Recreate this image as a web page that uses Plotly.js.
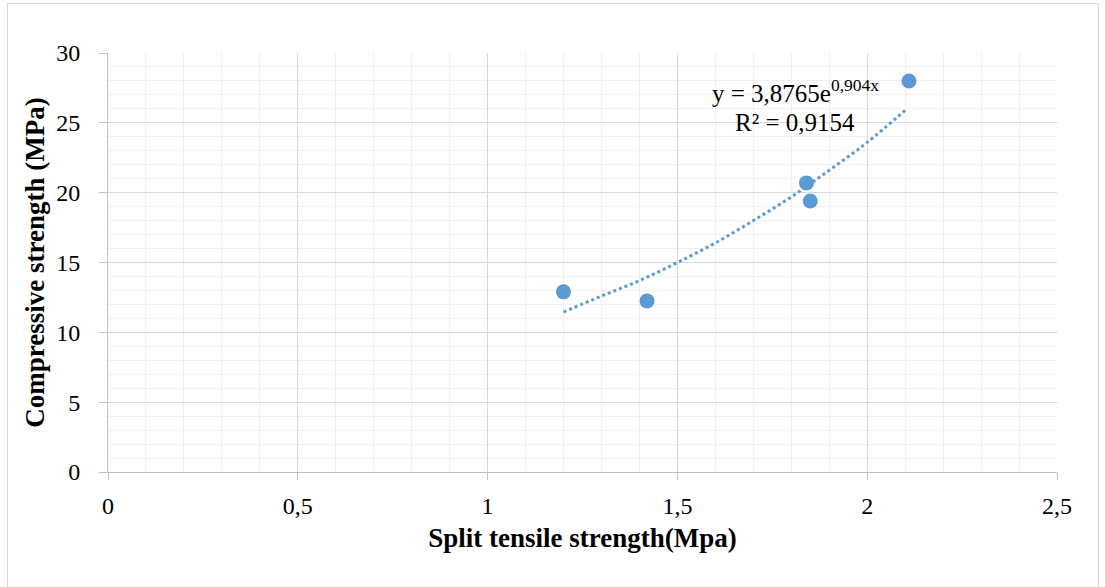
<!DOCTYPE html>
<html>
<head>
<meta charset="utf-8">
<script src="https://cdn.plot.ly/plotly-3.0.1.min.js"></script>
<style>
html,body{margin:0;padding:0;background:#fff;}
#wrap{position:relative;width:1105px;height:587px;}
#chart{width:1105px;height:587px;}
#frame{position:absolute;left:7px;top:3px;width:1090px;height:600px;border:1px solid #d9d9d9;pointer-events:none;}
</style>
</head>
<body>
<div id="wrap"><div id="chart"></div><div id="frame"></div></div>
<script>
// Measured points
const splitTensile = [1.20, 1.42, 1.84, 1.85, 2.11];
const compressive = [12.9, 12.25, 20.7, 19.4, 28.0];

// Exponential trendline
const trendX = [1.2, 1.3, 1.4, 1.5, 1.6, 1.7, 1.8, 1.9, 2.0, 2.1];
const trendY = [11.45, 12.6, 13.7, 15.0, 16.4, 18.0, 19.7, 21.6, 23.6, 25.9];

const xTickVals = [0, 0.5, 1, 1.5, 2, 2.5];
const xTickText = ['0', '0,5', '1', '1,5', '2', '2,5'];
const yTickVals = [0, 5, 10, 15, 20, 25, 30];

const equationText = 'y = 3,8765e<sup>0,904x</sup>';
const r2Text = 'R² = 0,9154';

const FONT = 'Liberation Serif, Times New Roman, serif';

const traces = [
  {
    x: trendX, y: trendY, type: 'scatter', mode: 'lines',
    line: {color: '#5B9BD5', width: 3, dash: 'dot', shape: 'spline'},
    hoverinfo: 'skip', showlegend: false
  },
  {
    x: splitTensile, y: compressive, type: 'scatter', mode: 'markers',
    marker: {color: '#5B9BD5', size: 15, line: {width: 0}},
    showlegend: false
  }
];

const layout = {
  width: 1105, height: 587,
  margin: {l: 108, r: 48, t: 53, b: 115},
  paper_bgcolor: '#fff', plot_bgcolor: '#fff',
  separators: ', ',
  font: {family: FONT, size: 24, color: '#000'},
  showlegend: false,
  xaxis: {
    range: [0, 2.5], tickvals: xTickVals, ticktext: xTickText,
    showgrid: true, gridcolor: '#d9d9d9', gridwidth: 1,
    minor: {dtick: 0.1, showgrid: true, gridcolor: '#f0f0f0', gridwidth: 1},
    showline: true, linecolor: '#bfbfbf', linewidth: 1,
    ticks: 'outside', ticklen: 7, tickcolor: '#bfbfbf',
    ticklabelstandoff: 5,
    zeroline: false,
    tickfont: {family: FONT, size: 24},
    title: {text: '<b>Split tensile strength(Mpa)</b>', font: {family: FONT, size: 27}, standoff: 10}
  },
  yaxis: {
    range: [0, 30], tickvals: yTickVals,
    showgrid: true, gridcolor: '#d9d9d9', gridwidth: 1,
    minor: {dtick: 1, showgrid: true, gridcolor: '#f0f0f0', gridwidth: 1},
    showline: true, linecolor: '#bfbfbf', linewidth: 1,
    ticks: 'outside', ticklen: 8, tickcolor: '#bfbfbf',
    ticklabelstandoff: 14,
    zeroline: false,
    tickfont: {family: FONT, size: 24},
    title: {text: '<b>Compressive strength (MPa)</b>', font: {family: FONT, size: 27}, standoff: 3}
  },
  annotations: [
    {x: 1.81, y: 27.3, xref: 'x', yref: 'y', text: equationText, showarrow: false,
     xanchor: 'center', yanchor: 'middle', font: {family: FONT, size: 25, color: '#000'}},
    {x: 1.81, y: 25.0, xref: 'x', yref: 'y', text: r2Text, showarrow: false,
     xanchor: 'center', yanchor: 'middle', font: {family: FONT, size: 25, color: '#000'}}
  ]
};

Plotly.newPlot('chart', traces, layout, {staticPlot: true, displayModeBar: false});
</script>
</body>
</html>
